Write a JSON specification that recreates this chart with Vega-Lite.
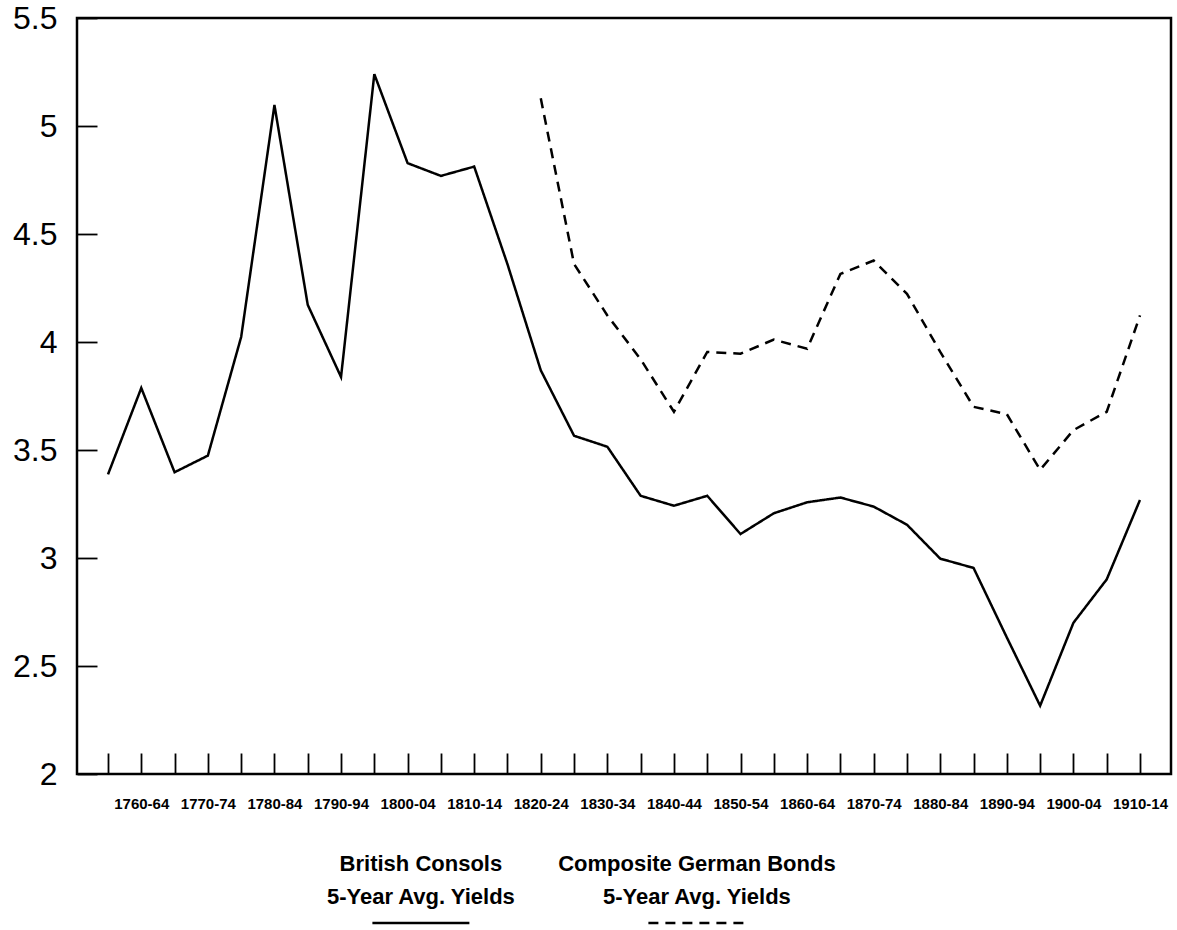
{
  "$schema": "https://vega.github.io/schema/vega-lite/v6.json",
  "background": "white",
  "padding": {"left": 11, "top": 0, "right": 5, "bottom": 5},
  "config": {
    "font": "Liberation Sans",
    "view": {"stroke": "black", "strokeWidth": 2.5},
    "axis": {"grid": false, "domain": false, "tickColor": "black", "labelColor": "black", "tickWidth": 1.8, "title": null}
  },
  "spacing": 97,
  "bounds": "flush",
  "datasets": {
    "yields": [
      {"period": "1755-59", "series": "British Consols", "yield": 3.387},
      {"period": "1760-64", "series": "British Consols", "yield": 3.787},
      {"period": "1765-69", "series": "British Consols", "yield": 3.397},
      {"period": "1770-74", "series": "British Consols", "yield": 3.474},
      {"period": "1775-79", "series": "British Consols", "yield": 4.023},
      {"period": "1780-84", "series": "British Consols", "yield": 5.097},
      {"period": "1785-89", "series": "British Consols", "yield": 4.172},
      {"period": "1790-94", "series": "British Consols", "yield": 3.838},
      {"period": "1795-99", "series": "British Consols", "yield": 5.24},
      {"period": "1800-04", "series": "British Consols", "yield": 4.828},
      {"period": "1805-09", "series": "British Consols", "yield": 4.769},
      {"period": "1810-14", "series": "British Consols", "yield": 4.812},
      {"period": "1815-19", "series": "British Consols", "yield": 4.36},
      {"period": "1820-24", "series": "British Consols", "yield": 3.869},
      {"period": "1825-29", "series": "British Consols", "yield": 3.566},
      {"period": "1830-34", "series": "British Consols", "yield": 3.515},
      {"period": "1835-39", "series": "British Consols", "yield": 3.288},
      {"period": "1840-44", "series": "British Consols", "yield": 3.242},
      {"period": "1845-49", "series": "British Consols", "yield": 3.288},
      {"period": "1850-54", "series": "British Consols", "yield": 3.111},
      {"period": "1855-59", "series": "British Consols", "yield": 3.207},
      {"period": "1860-64", "series": "British Consols", "yield": 3.258},
      {"period": "1865-69", "series": "British Consols", "yield": 3.28},
      {"period": "1870-74", "series": "British Consols", "yield": 3.238},
      {"period": "1875-79", "series": "British Consols", "yield": 3.154},
      {"period": "1880-84", "series": "British Consols", "yield": 2.997},
      {"period": "1885-89", "series": "British Consols", "yield": 2.954},
      {"period": "1890-94", "series": "British Consols", "yield": 2.632},
      {"period": "1895-99", "series": "British Consols", "yield": 2.316},
      {"period": "1900-04", "series": "British Consols", "yield": 2.7},
      {"period": "1905-09", "series": "British Consols", "yield": 2.901},
      {"period": "1910-14", "series": "British Consols", "yield": 3.269},
      {"period": "1820-24", "series": "Composite German Bonds", "yield": 5.128},
      {"period": "1825-29", "series": "Composite German Bonds", "yield": 4.361},
      {"period": "1830-34", "series": "Composite German Bonds", "yield": 4.123},
      {"period": "1835-39", "series": "Composite German Bonds", "yield": 3.92},
      {"period": "1840-44", "series": "Composite German Bonds", "yield": 3.677},
      {"period": "1845-49", "series": "Composite German Bonds", "yield": 3.954},
      {"period": "1850-54", "series": "Composite German Bonds", "yield": 3.946},
      {"period": "1855-59", "series": "Composite German Bonds", "yield": 4.011},
      {"period": "1860-64", "series": "Composite German Bonds", "yield": 3.969},
      {"period": "1865-69", "series": "Composite German Bonds", "yield": 4.315},
      {"period": "1870-74", "series": "Composite German Bonds", "yield": 4.377},
      {"period": "1875-79", "series": "Composite German Bonds", "yield": 4.223},
      {"period": "1880-84", "series": "Composite German Bonds", "yield": 3.954},
      {"period": "1885-89", "series": "Composite German Bonds", "yield": 3.7},
      {"period": "1890-94", "series": "Composite German Bonds", "yield": 3.666},
      {"period": "1895-99", "series": "Composite German Bonds", "yield": 3.408},
      {"period": "1900-04", "series": "Composite German Bonds", "yield": 3.592},
      {"period": "1905-09", "series": "Composite German Bonds", "yield": 3.677},
      {"period": "1910-14", "series": "Composite German Bonds", "yield": 4.123}
    ],
    "legend": [
      {"series": "British Consols", "part": "text", "label": "British Consols\n5-Year Avg. Yields"},
      {"series": "Composite German Bonds", "part": "text", "label": "Composite German Bonds\n5-Year Avg. Yields"},
      {"series": "British Consols", "part": "sample"},
      {"series": "Composite German Bonds", "part": "sample"}
    ]
  },
  "vconcat": [
    {
      "width": 1094,
      "height": 756,
      "data": {"name": "yields"},
      "mark": {"type": "line", "color": "black", "strokeWidth": 2.5},
      "encoding": {
        "x": {
          "field": "period", "type": "ordinal", "sort": null,
          "scale": {"type": "point", "padding": 0.931},
          "axis": {
            "orient": "bottom", "tickSize": -21, "labelPadding": 43, "labelAngle": 0,
            "labelFontSize": 15, "labelFontWeight": "bold", "labelOverlap": false,
            "labelExpr": "substring(datum.value, 3, 4) == '0' ? datum.value : ''"
          }
        },
        "y": {
          "field": "yield", "type": "quantitative",
          "scale": {"domain": [2, 5.5], "nice": false, "zero": false},
          "axis": {
            "values": [2, 2.5, 3, 3.5, 4, 4.5, 5, 5.5], "format": "~g",
            "tickSize": -20, "labelPadding": 40, "labelFontSize": 32,
            "labelFlush": false, "labelOverlap": false
          }
        },
        "strokeDash": {
          "field": "series", "type": "nominal",
          "scale": {"domain": ["British Consols", "Composite German Bonds"], "range": [[1, 0], [10, 7]]},
          "legend": null
        }
      }
    },
    {
      "width": 828,
      "height": 52,
      "view": {"stroke": null},
      "data": {"name": "legend"},
      "encoding": {
        "x": {
          "field": "series", "type": "nominal", "sort": null,
          "scale": {"type": "point", "domain": ["British Consols", "Composite German Bonds"], "padding": 1, "align": 0.623},
          "axis": null
        },
        "y": {
          "field": "part", "type": "nominal",
          "scale": {"type": "point", "domain": ["text", "sample"], "padding": 0},
          "axis": null
        }
      },
      "layer": [
        {
          "transform": [{"filter": "datum.part == 'text'"}],
          "mark": {"type": "text", "lineBreak": "\n", "lineHeight": 32.5, "fontSize": 22, "fontWeight": "bold", "baseline": "alphabetic", "align": "center", "color": "black"},
          "encoding": {"text": {"field": "label"}}
        },
        {
          "transform": [{"filter": "datum.part == 'sample'"}],
          "mark": {"type": "rule", "xOffset": -48.5, "x2Offset": 48.5, "strokeWidth": 2.5, "color": "black"},
          "encoding": {
            "x2": {"field": "series"},
            "strokeDash": {
              "field": "series", "type": "nominal",
              "scale": {"domain": ["British Consols", "Composite German Bonds"], "range": [[1, 0], [10, 7]]},
              "legend": null
            }
          }
        }
      ]
    }
  ]
}
